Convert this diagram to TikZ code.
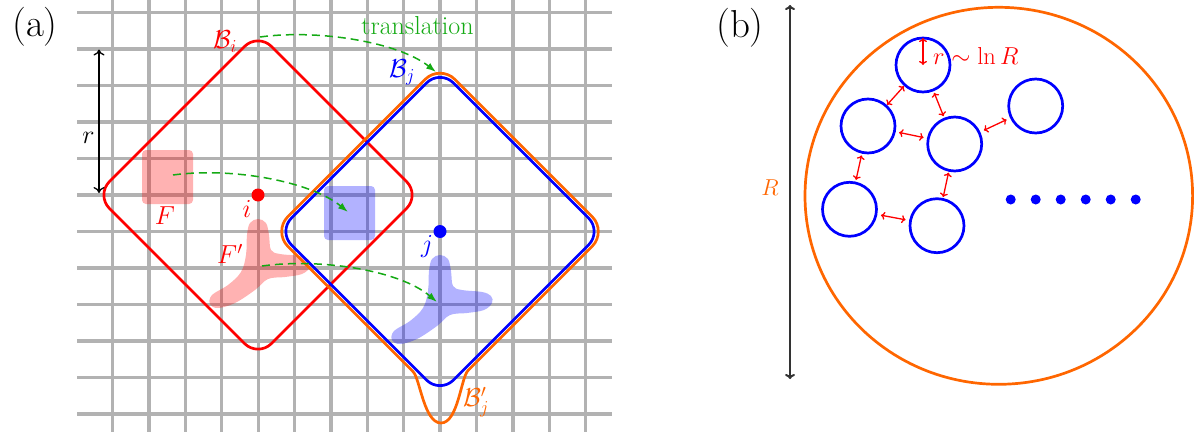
\RequirePackage{fix-cm}
\documentclass[tikz,border=0pt]{standalone}
\usetikzlibrary{arrows.meta,calc}
\definecolor{myorange}{RGB}{255,102,0}
\definecolor{mygreen}{RGB}{20,170,20}
\definecolor{gridgray}{RGB}{178,178,178}
\newcommand\linkarr[2]{\draw[redarr] ($(#1)!0.5!(#2)!12.5pt!(#1)$) -- ($(#1)!0.5!(#2)!12.5pt!(#2)$);}
\begin{document}
\begin{tikzpicture}[x=1pt,y=-1pt,
  font=\fontsize{26}{31}\selectfont,
  gridline/.style={gridgray, line width=3.3pt},
  diam/.style={line width=2.7pt, rounded corners=19pt},
  orangeline/.style={myorange, line width=2.7pt, line cap=round},
  trans/.style={mygreen, line width=1.5pt, dash pattern=on 8pt off 5pt, -{Latex[length=10pt,width=7pt]}},
  dimarr/.style={line width=1.3pt, {Computer Modern Rightarrow[length=6pt,width=11pt]}-{Computer Modern Rightarrow[length=6pt,width=11pt]}},
  bigarr/.style={black!80, line width=2pt, {Computer Modern Rightarrow[length=5pt,width=10pt]}-{Computer Modern Rightarrow[length=5pt,width=10pt]}},
  redarr/.style={red, line width=1.3pt, {Computer Modern Rightarrow[length=4pt,width=8pt]}-{Computer Modern Rightarrow[length=4pt,width=8pt]}},
  dot/.style={circle, inner sep=0pt, minimum size=13pt},
  smalldot/.style={circle, fill=blue, inner sep=0pt, minimum size=10pt},
  bcirc/.style={circle, draw=blue, line width=2.7pt, minimum size=54pt, inner sep=0pt, outer sep=0pt},
  lbl/.style={inner sep=0pt}
]
\useasboundingbox (0,0) rectangle (1204,439);

% ---------------- panel (a) ----------------
\node[lbl, font=\fontsize{39}{46}\selectfont] (la) at (35,27) {(a)};

% grid
\foreach \k in {0,...,13} \draw[gridline] ({112.7+36.38*\k},0) -- ({112.7+36.38*\k},432);
\foreach \k in {0,...,11} \draw[gridline] (77,{12.4+36.51*\k}) -- (612,{12.4+36.51*\k});

% shapes F and F'
\foreach \dx/\dy/\col in {0/0/red, 182/36/blue}{
  \begin{scope}[shift={(\dx,\dy)}]
    \fill[\col, opacity=0.3, rounded corners=4pt] (142,150) rectangle (193,204);
    \fill[\col, opacity=0.3] plot[smooth cycle, tension=0.6] coordinates {
      (258,219) (266,223) (269,235) (271,250) (280,254) (300,256) (309,260)
      (310,267) (302,274) (285,277) (268,279) (255,290) (235,303) (218,308)
      (210,304) (212,295) (228,285) (241,272) (246,255) (247,235) (250,223)};
  \end{scope}
}

% diamonds
\draw[red, diam] (96,195) -- (258,33) -- (420,195) -- (258,357) -- cycle;
\draw[orangeline, rounded corners=21pt] (413,371.5) -- (273,231.5) -- (440,64.5) -- (607,231.5) -- (468,370.5);
\draw[orangeline] (468,370.5) .. controls (461,377.5) and (458,423) .. (441,423)
                              .. controls (424,423) and (420,378.5) .. (413,371.5);
\draw[blue, diam] (278,231.5) -- (440,69.5) -- (602,231.5) -- (440,393.5) -- cycle;

% centres
\node[dot, fill=red] (i) at (258,195) {};
\node[dot, fill=blue] (j) at (440,231.5) {};

% translation arrows
\coordinate (t1s) at (260,37);  \coordinate (t1e) at (436,72);
\coordinate (t2s) at (173,175); \coordinate (t2e) at (348,212);
\coordinate (t3s) at (262,266); \coordinate (t3e) at (437,302);
\draw[trans] (t1s) .. controls (318,29) and (398,42) .. (t1e);
\draw[trans] (t2s) .. controls (231,167) and (310,181) .. (t2e);
\draw[trans] (t3s) .. controls (320,258) and (399,270) .. (t3e);

% r arrow
\coordinate (ra) at (99,49.5);
\coordinate (rb) at (99,193);
\draw[dimarr] (ra) -- (rb);

% labels
\node[lbl] (lr) at (88.5,137.5) {$r$};
\node[lbl, red] (lBi) at (225,42) {$\mathcal{B}_i$};
\node[lbl, blue] (lBj) at (402,72) {$\mathcal{B}_j$};
\node[lbl, myorange] (lBpj) at (476,402) {$\mathcal{B}'_j$};
\node[lbl, mygreen] (ltr) at (417.5,26) {translation};
\node[lbl, red] (lF) at (165,216) {$F$};
\node[lbl, red] (lFp) at (230,254) {$F'$};
\node[lbl, red] (li) at (247,209) {$i$};
\node[lbl, blue] (lj) at (427,247) {$j$};

% ---------------- panel (b) ----------------
\node[lbl, font=\fontsize{39}{46}\selectfont] (lb) at (740,27.5) {(b)};

\coordinate (Rt) at (790,5);
\coordinate (Rb) at (790,379);
\draw[bigarr] (Rt) -- (Rb);
\node[lbl, myorange, font=\fontsize{23}{28}\selectfont] (lR) at (770,187.5) {$R$};

\draw[myorange, line width=2.7pt] (998.8,195.8) ellipse [x radius=193.8, y radius=188.5];

\node[bcirc] (c1) at (923,65) {};
\node[bcirc] (c2) at (868,126) {};
\node[bcirc] (c3) at (954.7,144) {};
\node[bcirc] (c4) at (1035.7,106) {};
\node[bcirc] (c5) at (849.5,209.3) {};
\node[bcirc] (c6) at (937,225.7) {};

\foreach \k in {0,...,5} \node[smalldot] (d\k) at ({1010.7+25*\k},199.5) {};

\draw[redarr] (c1.north) -- (c1.center);
\node[lbl, red, anchor=west, font=\fontsize{24.5}{29}\selectfont] (lrr) at (933,56) {$r\sim\ln R$};

\linkarr{c1}{c2}
\linkarr{c1}{c3}
\linkarr{c2}{c3}
\linkarr{c3}{c4}
\linkarr{c2}{c5}
\linkarr{c3}{c6}
\linkarr{c5}{c6}
\end{tikzpicture}
\end{document}
